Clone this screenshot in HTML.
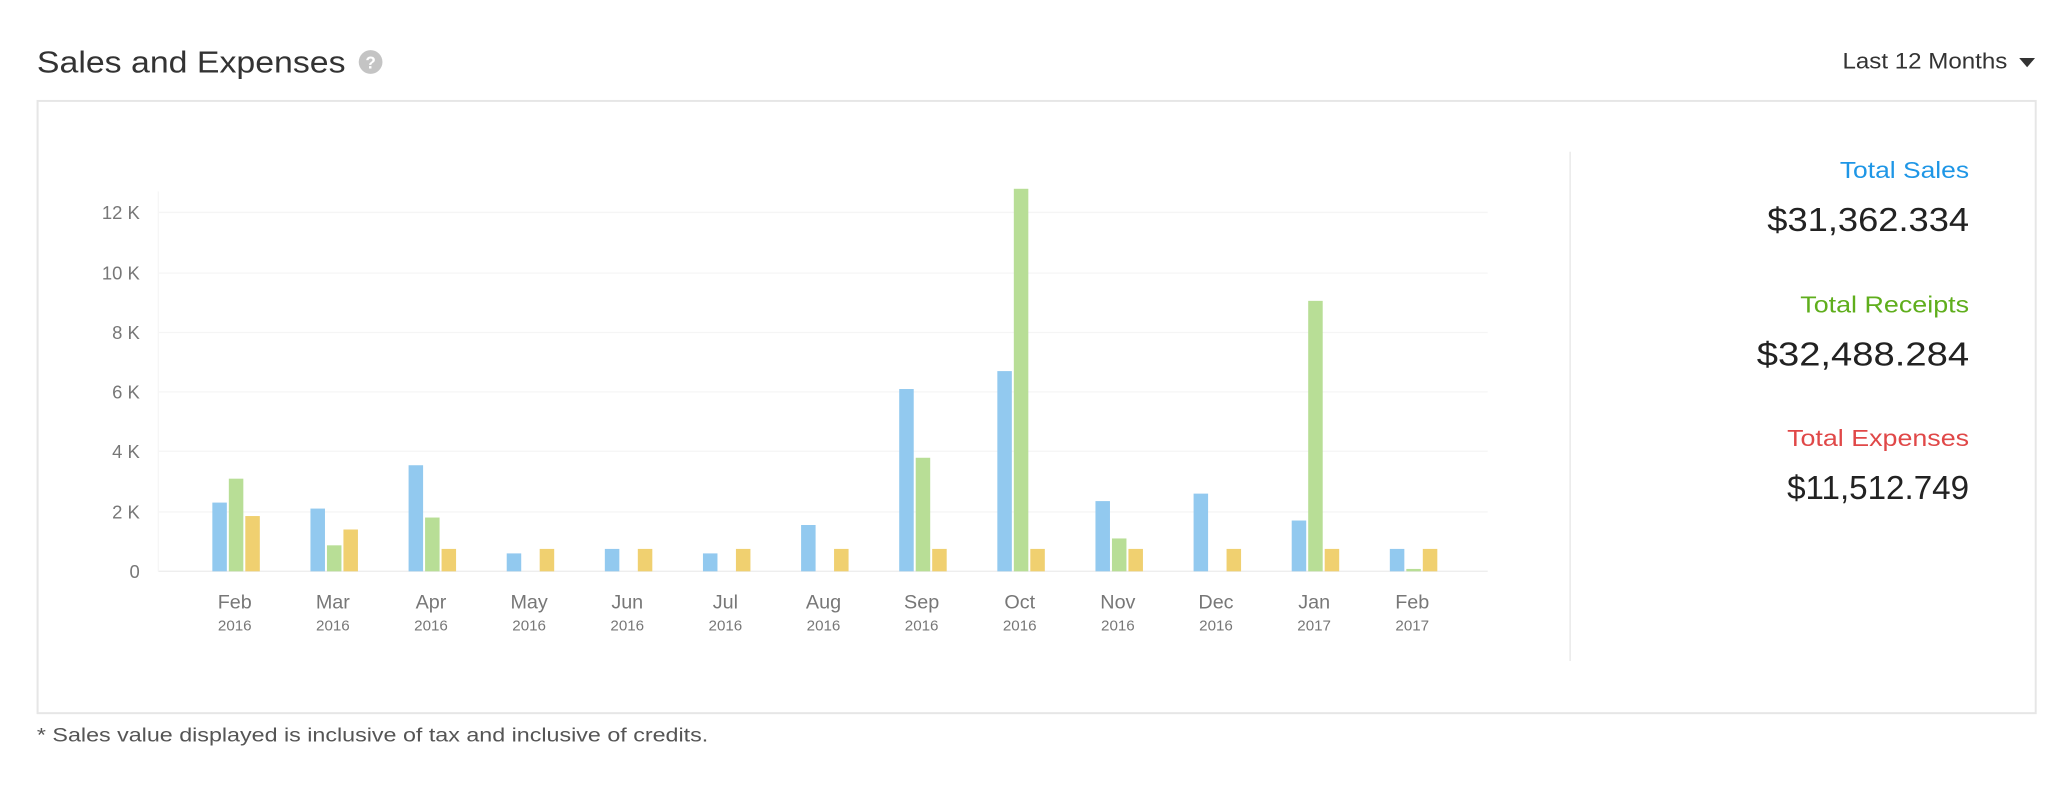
<!DOCTYPE html>
<html><head><meta charset="utf-8"><style>
html,body{margin:0;padding:0;background:#fff;}
svg{display:block;}
text{font-family:"Liberation Sans",sans-serif;}
</style></head><body>
<svg width="2068" height="793" viewBox="0 0 1568 601" preserveAspectRatio="none" xmlns="http://www.w3.org/2000/svg">
<text x="28" y="55" font-size="23" fill="#333" textLength="234" lengthAdjust="spacingAndGlyphs">Sales and Expenses</text>
<circle cx="281" cy="47" r="9" fill="#c4c4c4"/>
<text x="281" y="52" font-size="13" font-weight="bold" fill="#fff" text-anchor="middle">?</text>
<text x="1522" y="52" font-size="16.5" fill="#333" text-anchor="end" textLength="125" lengthAdjust="spacingAndGlyphs">Last 12 Months</text>
<polygon points="1531,44 1543,44 1537,51" fill="#333"/>
<rect x="28.5" y="76.5" width="1515" height="464" fill="#fff" stroke="#e6e6e6" stroke-width="1.5"/>
<g stroke="#f5f5f5" stroke-width="1">
<line x1="120" x2="1128" y1="161" y2="161"/><line x1="120" x2="1128" y1="207" y2="207"/>
<line x1="120" x2="1128" y1="252" y2="252"/><line x1="120" x2="1128" y1="297" y2="297"/>
<line x1="120" x2="1128" y1="342" y2="342"/><line x1="120" x2="1128" y1="388" y2="388"/>
<line x1="120" x2="1128" y1="433" y2="433" stroke="#eeeeee"/>
</g>
<line x1="120" x2="120" y1="145" y2="433" stroke="#f6f6f6"/>
<g font-size="14" fill="#777" text-anchor="end">
<text x="106" y="166">12 K</text><text x="106" y="212">10 K</text><text x="106" y="257">8 K</text>
<text x="106" y="302">6 K</text><text x="106" y="347">4 K</text><text x="106" y="393">2 K</text><text x="106" y="438">0</text>
</g>
<g id="bars"></g>
<g id="labels" text-anchor="middle" fill="#777"></g>
<line x1="1190.5" x2="1190.5" y1="115" y2="501" stroke="#e6e6e6"/>
<g text-anchor="end" lengthAdjust="spacingAndGlyphs">
<text x="1493" y="135" font-size="17.5" fill="#1e96e6" textLength="98" lengthAdjust="spacingAndGlyphs">Total Sales</text>
<text x="1493" y="175" font-size="25" fill="#222" textLength="153" lengthAdjust="spacingAndGlyphs">$31,362.334</text>
<text x="1493" y="237" font-size="17.5" fill="#5fae1c" textLength="128" lengthAdjust="spacingAndGlyphs">Total Receipts</text>
<text x="1493" y="277" font-size="25" fill="#222" textLength="161" lengthAdjust="spacingAndGlyphs">$32,488.284</text>
<text x="1493" y="338" font-size="17.5" fill="#e04848" textLength="138" lengthAdjust="spacingAndGlyphs">Total Expenses</text>
<text x="1493" y="378" font-size="25" fill="#222" textLength="138" lengthAdjust="spacingAndGlyphs">$11,512.749</text>
</g>
<text x="28" y="562" font-size="14.5" fill="#555" textLength="509" lengthAdjust="spacingAndGlyphs">* Sales value displayed is inclusive of tax and inclusive of credits.</text>
</svg>
<script>
var d=[["Feb","2016",2.3,3.1,1.85],["Mar","2016",2.1,0.87,1.4],["Apr","2016",3.55,1.8,0.75],["May","2016",0.6,0,0.75],["Jun","2016",0.75,0,0.75],["Jul","2016",0.6,0,0.75],["Aug","2016",1.55,0,0.75],["Sep","2016",6.1,3.8,0.75],["Oct","2016",6.7,12.8,0.75],["Nov","2016",2.35,1.1,0.75],["Dec","2016",2.6,0,0.75],["Jan","2017",1.7,9.05,0.75],["Feb","2017",0.75,0.08,0.75]];
var ns="http://www.w3.org/2000/svg",b=document.getElementById("bars"),l=document.getElementById("labels");
var cols=["#92c9ef","#b8de96","#f0d070"],off=[-17,-4.5,8];
d.forEach(function(m,i){var c=178+i*74.4;
for(var k=0;k<3;k++){var v=m[2+k];if(v<=0)continue;var h=v*22.65;var r=document.createElementNS(ns,"rect");
r.setAttribute("x",c+off[k]);r.setAttribute("y",433-h);r.setAttribute("width",11);r.setAttribute("height",h);r.setAttribute("fill",cols[k]);b.appendChild(r);}
var t=document.createElementNS(ns,"text");t.setAttribute("x",c);t.setAttribute("y",461);t.setAttribute("font-size","15");t.textContent=m[0];l.appendChild(t);
var y=document.createElementNS(ns,"text");y.setAttribute("x",c);y.setAttribute("y",478);y.setAttribute("font-size","11.5");y.textContent=m[1];l.appendChild(y);});
</script>
</body></html>
